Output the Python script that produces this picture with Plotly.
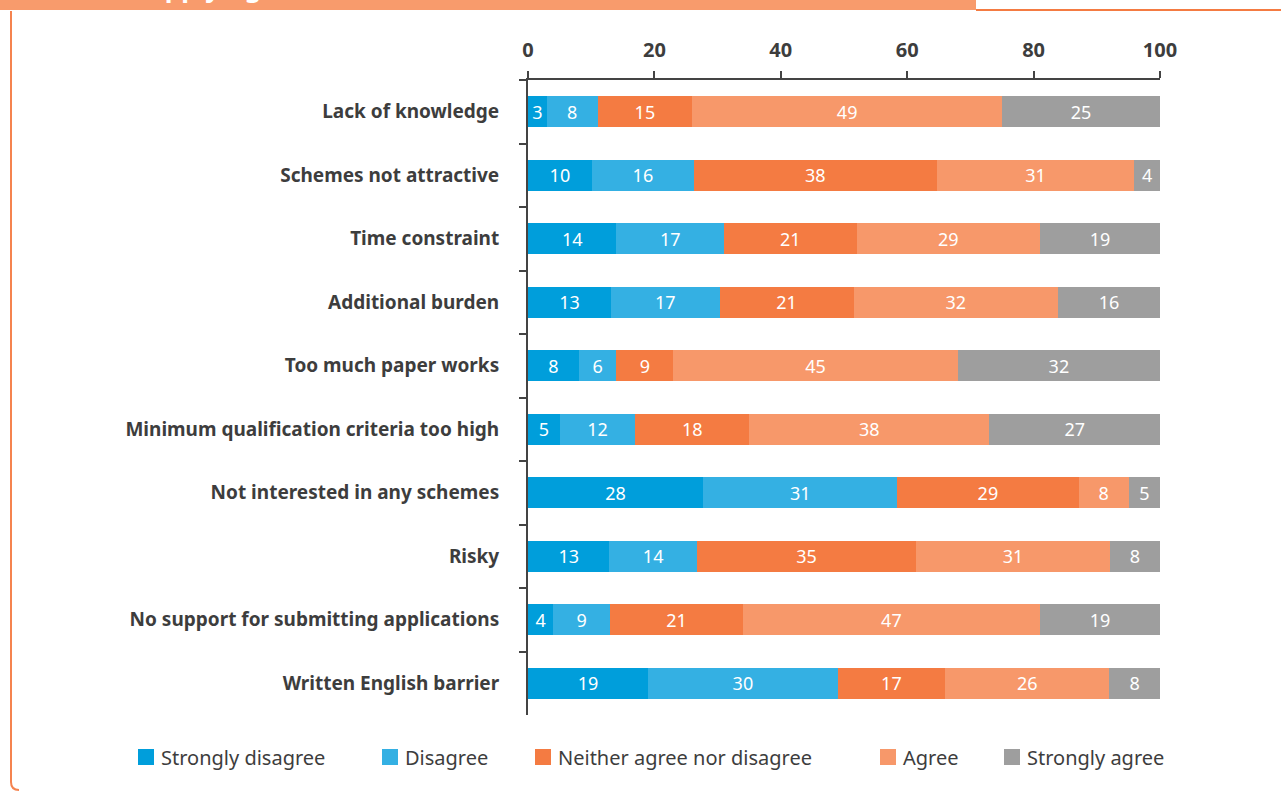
import plotly.graph_objects as go

# Survey data: share of respondents per answer, by reason
reasons = [
    "Lack of knowledge",
    "Schemes not attractive",
    "Time constraint",
    "Additional burden",
    "Too much paper works",
    "Minimum qualification criteria too high",
    "Not interested in any schemes",
    "Risky",
    "No support for submitting applications",
    "Written English barrier",
]
strongly_disagree = [3, 10, 14, 13, 8, 5, 28, 13, 4, 19]
disagree = [8, 16, 17, 17, 6, 12, 31, 14, 9, 30]
neither = [15, 38, 21, 21, 9, 18, 29, 35, 21, 17]
agree = [49, 31, 29, 32, 45, 38, 8, 31, 47, 26]
strongly_agree = [25, 4, 19, 16, 32, 27, 5, 8, 19, 8]

answers = ["Strongly disagree", "Disagree", "Neither agree nor disagree",
           "Agree", "Strongly agree"]
series = [strongly_disagree, disagree, neither, agree, strongly_agree]
colors = ["#009EDB", "#34B0E3", "#F47B42", "#F7986A", "#9E9E9E"]

x_ticks = [0, 20, 40, 60, 80, 100]

W, H = 1281, 791
ML, MR, MT, MB = 528, 121, 80, 76
PW, PH = W - ML - MR, H - MT - MB


def px(x):
    return (x - ML) / PW


def py(y):
    return 1 - (y - MT) / PH


fig = go.Figure()
for name, vals, col in zip(answers, series, colors):
    fig.add_trace(go.Bar(
        y=reasons, x=vals, name=name, orientation="h",
        marker=dict(color=col, line=dict(width=0)),
        text=[str(v) for v in vals], texttemplate="%{text}",
        textposition="inside", insidetextanchor="middle",
        textfont=dict(color="white", size=18, family="Noto Sans"),
        showlegend=False,
    ))

shapes = [
    # heading band and frame
    dict(type="rect", xref="paper", yref="paper", x0=px(0), x1=px(976),
         y0=py(0), y1=py(10), fillcolor="#F89B6C", line=dict(width=0), layer="below"),
    dict(type="line", xref="paper", yref="paper", x0=px(976), x1=px(1281),
         y0=py(10), y1=py(10), line=dict(color="#F47B42", width=2)),
    dict(type="path", xref="paper", yref="paper",
         path=f"M {px(11)},{py(11)} L {px(11)},{py(782)} Q {px(11)},{py(790)} {px(19)},{py(790)}",
         line=dict(color="#F5834F", width=2)),
]

annotations = [
    dict(xref="paper", yref="paper", x=px(428), y=py(-13), xanchor="right",
         yanchor="middle", text="<b>Barriers to applying for schemes</b>",
         showarrow=False, font=dict(color="white", size=26, family="Noto Sans")),
]

# legend row
legend_x = [138, 382, 535, 880, 1004]
for name, col, lx in zip(answers, colors, legend_x):
    shapes.append(dict(type="rect", xref="paper", yref="paper",
                       x0=px(lx), x1=px(lx + 16), y0=py(749), y1=py(765),
                       fillcolor=col, line=dict(width=0)))
    annotations.append(dict(xref="paper", yref="paper", x=px(lx + 21), y=py(757),
                            xanchor="left", yanchor="middle", text=name,
                            showarrow=False,
                            font=dict(color="#3d3d3d", size=20, family="Noto Sans")))

fig.update_layout(
    width=W, height=H,
    margin=dict(l=ML, r=MR, t=MT, b=MB, pad=0, autoexpand=False),
    barmode="stack", barnorm="percent", bargap=0.51,
    plot_bgcolor="white", paper_bgcolor="white",
    uniformtext=dict(minsize=18, mode="show"),
    shapes=shapes, annotations=annotations,
    xaxis=dict(side="top", range=[0, 100], tickvals=x_ticks,
               ticktext=[str(t) for t in x_ticks],
               showgrid=False, zeroline=False, showline=True,
               linecolor="#444444", linewidth=2, ticks="outside", ticklen=7,
               tickwidth=2, tickcolor="#444444", ticklabelstandoff=6,
               tickfont=dict(size=20, color="#3d3d3d", family="Noto Sans", weight="bold")),
    yaxis=dict(categoryorder="array", categoryarray=reasons, autorange="reversed",
               showgrid=False, zeroline=False, showline=True,
               linecolor="#444444", linewidth=2, ticks="outside", ticklen=7,
               tickwidth=2, tickcolor="#444444", tickson="boundaries",
               ticklabelstandoff=23,
               tickfont=dict(size=19, color="#3d3d3d", family="Noto Sans", weight="bold")),
    font=dict(family="Noto Sans"),
)

fig.write_html("out.html")
